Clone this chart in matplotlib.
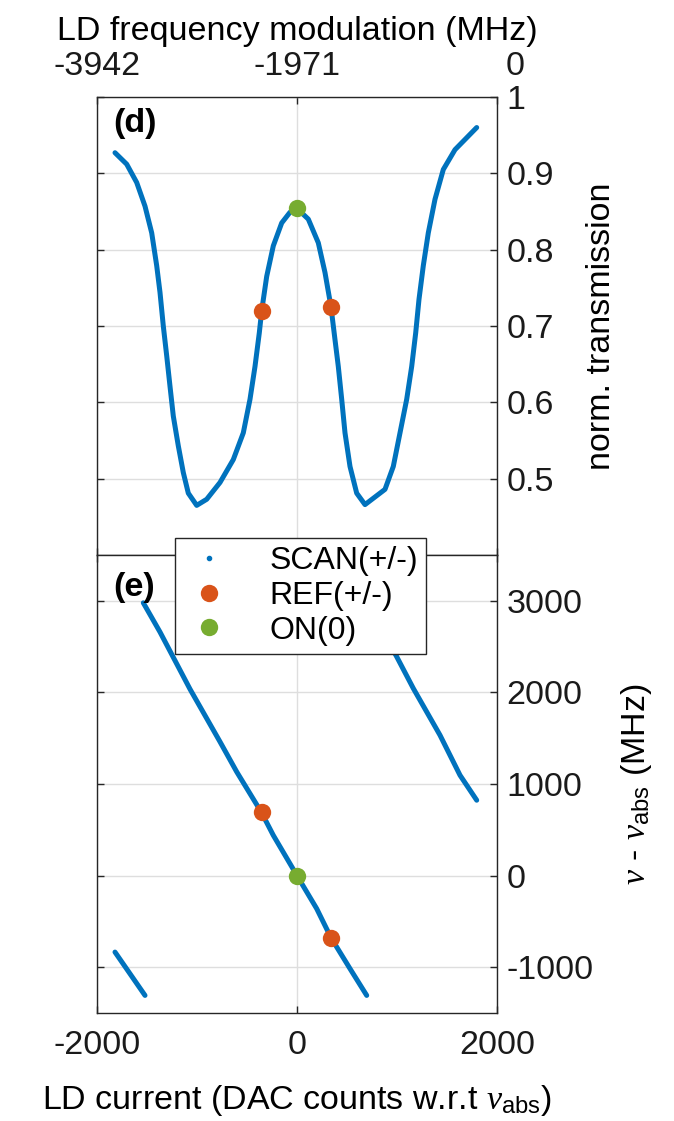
import matplotlib
matplotlib.use("Agg")
import matplotlib.pyplot as plt
from matplotlib.lines import Line2D
from matplotlib.transforms import ScaledTranslation

plt.rcParams['font.family'] = ['Liberation Sans', 'DejaVu Sans']
plt.rcParams['mathtext.fontset'] = 'custom'
plt.rcParams['mathtext.rm'] = 'Liberation Sans'
plt.rcParams['mathtext.it'] = 'Liberation Serif:italic'
plt.rcParams['mathtext.bf'] = 'Liberation Sans:bold'
plt.rcParams['axes.unicode_minus'] = False

# ---------------- data ----------------
# panel (d): normalized transmission vs LD current (DAC counts)
scan_d_x = [-1820, -1703, -1603, -1520, -1453, -1403, -1370, -1337, -1303, -1270,
            -1237, -1187, -1137, -1087, -1003, -903, -770, -637, -537, -470,
            -420, -377, -353, -303, -237, -153, -70, 0, 113, 213, 280, 340, 380,
            413, 447, 480, 530, 597, 680, 880, 963, 1030, 1097, 1147, 1187, 1220,
            1263, 1313, 1380, 1463, 1580, 1797]
scan_d_y = [0.927, 0.912, 0.888, 0.857, 0.822, 0.779, 0.744, 0.700, 0.661, 0.621,
            0.582, 0.543, 0.508, 0.481, 0.465, 0.473, 0.495, 0.525, 0.560, 0.604,
            0.647, 0.691, 0.720, 0.765, 0.805, 0.835, 0.849, 0.854, 0.840, 0.809,
            0.770, 0.725, 0.682, 0.647, 0.604, 0.560, 0.516, 0.481, 0.466, 0.486,
            0.516, 0.560, 0.604, 0.647, 0.691, 0.735, 0.779, 0.822, 0.866, 0.905,
            0.931, 0.960]
ref_x = [-355, 340]
ref_d_y = [0.720, 0.725]
on_x = [0]
on_d_y = [0.854]

# panel (e): nu - nu_abs (MHz) vs LD current, three wrapped scan segments
scan_e_main_x = [-1537, -1370, -1070, -770, -603, -355, -237, 0, 197, 340, 530, 697]
scan_e_main_y = [2978, 2659, 2036, 1461, 1133, 689, 440, 0, -361, -678, -1016, -1308]
scan_e_right_x = [700, 997, 1163, 1430, 1630, 1797]
scan_e_right_y = [2978, 2390, 2044, 1533, 1096, 823]
scan_e_left_x = [-1820, -1520]
scan_e_left_y = [-835, -1308]
ref_e_y = [689, -678]
on_e_y = [0]

d_yticks = [0.5, 0.6, 0.7, 0.8, 0.9, 1.0]
d_yticklabels = ['0.5', '0.6', '0.7', '0.8', '0.9', '1']
e_yticks = [-1000, 0, 1000, 2000, 3000]
xticks = [-2000, 0, 2000]
top_ticks = [-3942, -1971, 0]
top_ticklabels = ['-3942', '-1971', '0']
legend_labels = ['SCAN(+/-)', 'REF(+/-)', 'ON(0)']

# ---------------- style ----------------
BLUE = '#0072BD'
ORANGE = '#D95319'
GREEN = '#77AC30'
AXC = '#262626'
GRIDC = '#dedede'
FS = 24.5

W, H = 674, 1121
fig = plt.figure(figsize=(W / 100, H / 100), dpi=100)
L, R = 97, 497
axd = fig.add_axes([L / W, 1 - 555 / H, (R - L) / W, 458 / H])
axe = fig.add_axes([L / W, 1 - 1013 / H, (R - L) / W, 458 / H])


def style(ax):
    for s in ax.spines.values():
        s.set_color(AXC)
        s.set_linewidth(1.0)
    ax.tick_params(direction='in', length=5, width=1, color=AXC,
                   labelsize=FS, labelcolor='#1a1a1a',
                   left=True, right=True, top=True, bottom=True,
                   labelleft=False, labelright=True)
    ax.grid(True, color=GRIDC, linewidth=1.0)
    ax.set_axisbelow(True)
    ax.yaxis.set_label_position('right')


# ---- panel (d)
style(axd)
axd.plot(scan_d_x, scan_d_y, '-', color=BLUE, lw=3.6, solid_capstyle='round',
         solid_joinstyle='round')
axd.plot(ref_x, ref_d_y, 'o', color=ORANGE, ms=12.5, mec='none')
axd.plot(on_x, on_d_y, 'o', color=GREEN, ms=12.5, mec='none')
axd.set_xlim(-2000, 2000)
axd.set_ylim(0.4, 1.0)
axd.set_xticks(xticks)
axd.set_yticks(d_yticks)
axd.set_yticklabels(d_yticklabels)
axd.tick_params(axis='x', labelbottom=False, labeltop=False)
axd.tick_params(axis='y', pad=7)
axd.set_ylabel('norm. transmission', fontsize=FS)
axd.yaxis.set_label_coords(1.222, 0.5)
axd.text(0.04, 0.943, '(d)', transform=axd.transAxes, fontsize=FS,
         fontweight='bold', ha='left', va='center')

top = axd.secondary_xaxis('top', functions=(lambda x: (x - 2000) * 3942 / 4000,
                                            lambda m: m * 4000 / 3942 + 2000))
top.set_xticks(top_ticks)
top.set_xticklabels(top_ticklabels)
top.tick_params(direction='in', length=0, labelsize=FS, pad=11, labelcolor='#1a1a1a')
top.spines['top'].set_visible(False)
top.set_xlabel('LD frequency modulation (MHz)', fontsize=FS, labelpad=8)
lbls = top.get_xticklabels()
lbls[-1].set_transform(lbls[-1].get_transform() +
                       ScaledTranslation(18 / 100, 0, fig.dpi_scale_trans))

# ---- panel (e)
style(axe)
for sx, sy in [(scan_e_main_x, scan_e_main_y),
               (scan_e_right_x, scan_e_right_y),
               (scan_e_left_x, scan_e_left_y)]:
    axe.plot(sx, sy, '-', color=BLUE, lw=3.6, solid_capstyle='round',
             solid_joinstyle='round')
axe.plot(ref_x, ref_e_y, 'o', color=ORANGE, ms=12.5, mec='none')
axe.plot(on_x, on_e_y, 'o', color=GREEN, ms=12.5, mec='none')
axe.set_xlim(-2000, 2000)
axe.set_ylim(-1500, 3500)
axe.set_xticks(xticks)
axe.set_yticks(e_yticks)
axe.tick_params(axis='x', labelbottom=True, labeltop=False, pad=12)
axe.tick_params(axis='y', pad=7)
axe.set_xlabel(r'LD current (DAC counts w.r.t $\nu_{\mathrm{abs}}$)', fontsize=FS,
               labelpad=16)
axe.set_ylabel(r'$\nu$ - $\nu_{\mathrm{abs}}$ (MHz)', fontsize=FS)
axe.yaxis.set_label_coords(1.305, 0.5)
axe.text(0.04, 0.928, '(e)', transform=axe.transAxes, fontsize=FS,
         fontweight='bold', ha='left', va='center')

handles = [Line2D([], [], ls='', marker='.', color=BLUE, ms=6),
           Line2D([], [], ls='', marker='o', color=ORANGE, ms=12.5, mec='none'),
           Line2D([], [], ls='', marker='o', color=GREEN, ms=12.5, mec='none')]
leg = axe.legend(handles, legend_labels, loc='upper left',
                 bbox_to_anchor=((175 - L) / 400, (1013 - 538) / 458),
                 fontsize=23, frameon=True, fancybox=False, framealpha=1,
                 edgecolor=AXC, borderpad=0.25, labelspacing=0.15,
                 handlelength=1.6, handletextpad=1.1, borderaxespad=0)
leg.get_frame().set_linewidth(1.0)
leg.set_zorder(10)

fig.savefig('out.png', dpi=100)
